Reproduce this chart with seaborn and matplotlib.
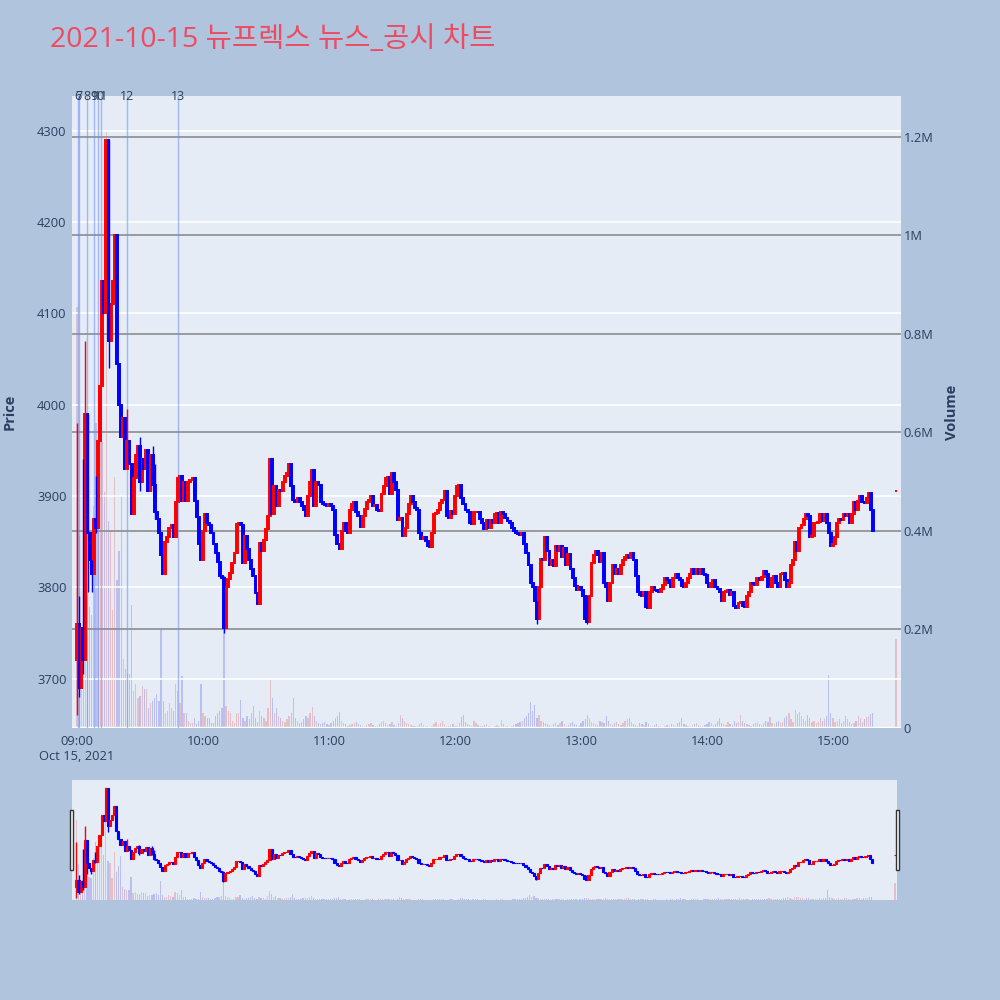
import numpy as np
import pandas as pd
import matplotlib
matplotlib.use('Agg')
from matplotlib import pyplot as plt
from matplotlib.patches import Rectangle
import matplotlib.transforms as mtransforms
import seaborn as sns

sns.set_theme(style='white')
plt.rcParams['font.family'] = ['Open Sans', 'Noto Sans CJK KR', 'DejaVu Sans']

title = '2021-10-15 뉴프렉스 뉴스_공시 차트'

# 1분봉 종가 (09:00 부터, 한 줄에 20분)
closes = [
    3760, 3690, 3755, 3720, 3990, 3860, 3830, 3815, 3875, 3865, 3960, 4020, 4135, 4100, 4290, 4070, 4110, 4135, 4186, 4045,
    4000, 3965, 3985, 3930, 3960, 3935, 3880, 3920, 3945, 3955, 3915, 3940, 3930, 3950, 3905, 3945, 3912, 3882, 3875, 3860,
    3835, 3815, 3850, 3855, 3865, 3868, 3855, 3893, 3920, 3922, 3895, 3915, 3895, 3915, 3918, 3920, 3895, 3877, 3848, 3830,
    3862, 3880, 3870, 3868, 3860, 3848, 3838, 3828, 3812, 3810, 3755, 3800, 3809, 3816, 3827, 3838, 3869, 3870, 3868, 3827,
    3856, 3842, 3830, 3820, 3812, 3794, 3782, 3849, 3840, 3852, 3864, 3878, 3940, 3880, 3911, 3889, 3907, 3905, 3915, 3922,
    3925, 3935, 3911, 3896, 3893, 3898, 3893, 3889, 3885, 3878, 3900, 3915, 3929, 3889, 3915, 3912, 3893, 3891, 3890, 3889,
    3891, 3889, 3885, 3857, 3848, 3842, 3862, 3871, 3862, 3860, 3885, 3891, 3893, 3882, 3878, 3866, 3878, 3886, 3893, 3896,
    3900, 3889, 3890, 3885, 3884, 3902, 3911, 3920, 3921, 3902, 3925, 3915, 3907, 3874, 3876, 3856, 3865, 3880, 3891, 3900,
    3893, 3887, 3885, 3860, 3853, 3855, 3851, 3845, 3844, 3860, 3880, 3881, 3885, 3892, 3896, 3905, 3878, 3876, 3884, 3880,
    3900, 3911, 3912, 3898, 3891, 3885, 3882, 3871, 3869, 3882, 3883, 3882, 3875, 3870, 3864, 3874, 3865, 3874, 3871, 3880,
    3881, 3871, 3882, 3880, 3876, 3873, 3871, 3865, 3862, 3860, 3858, 3857, 3860, 3848, 3838, 3825, 3805, 3800, 3785, 3765,
    3800, 3831, 3830, 3855, 3840, 3825, 3830, 3823, 3845, 3840, 3845, 3833, 3843, 3825, 3836, 3820, 3810, 3802, 3797, 3800,
    3797, 3790, 3765, 3762, 3790, 3827, 3835, 3840, 3835, 3828, 3838, 3805, 3800, 3785, 3805, 3825, 3815, 3820, 3815, 3825,
    3830, 3833, 3835, 3832, 3838, 3830, 3812, 3795, 3792, 3790, 3795, 3778, 3777, 3795, 3800, 3797, 3796, 3795, 3798, 3803,
    3810, 3808, 3805, 3800, 3810, 3815, 3810, 3808, 3802, 3800, 3805, 3810, 3815, 3820, 3815, 3820, 3815, 3820, 3815, 3813,
    3805, 3800, 3805, 3808, 3800, 3798, 3795, 3785, 3795, 3796, 3797, 3792, 3795, 3780, 3777, 3783, 3784, 3780, 3778, 3790,
    3795, 3805, 3804, 3803, 3810, 3808, 3811, 3818, 3815, 3800, 3800, 3810, 3812, 3805, 3800, 3815, 3816, 3808, 3800, 3805,
    3825, 3830, 3850, 3840, 3865, 3868, 3875, 3880, 3878, 3855, 3856, 3870, 3871, 3872, 3880, 3873, 3880, 3870, 3860, 3845,
    3848, 3855, 3870, 3875, 3874, 3880, 3878, 3880, 3870, 3880, 3893, 3885, 3895, 3900, 3893, 3892, 3898, 3903, 3885, 3862,
]
first_open = 3720

# 1분 거래량 (천주)
volumes_k = [
    855, 390, 160, 210, 240, 270, 245, 230, 450, 620, 540, 700, 580, 480, 1210, 420, 400, 240, 510, 300,
    360, 470, 140, 120, 110, 110, 250, 75, 90, 60, 65, 85, 80, 80, 40, 50, 55, 60, 70, 55,
    200, 55, 30, 35, 50, 40, 35, 90, 75, 50, 105, 30, 30, 15, 10, 10, 20, 8, 15, 90,
    30, 25, 20, 20, 10, 10, 25, 30, 35, 40, 200, 45, 35, 30, 15, 10, 30, 30, 57, 20,
    15, 25, 18, 30, 45, 20, 12, 35, 25, 20, 15, 40, 100, 60, 30, 40, 25, 20, 15, 12,
    18, 25, 30, 60, 20, 15, 10, 12, 18, 25, 20, 30, 43, 25, 15, 10, 8, 10, 12, 8,
    6, 10, 15, 20, 25, 33, 15, 10, 8, 5, 6, 8, 10, 12, 8, 6, 5, 4, 6, 8,
    10, 6, 5, 4, 8, 12, 15, 10, 6, 8, 12, 6, 5, 10, 27, 20, 15, 10, 8, 6,
    5, 4, 5, 8, 10, 6, 5, 4, 3, 5, 8, 12, 6, 10, 15, 8, 5, 4, 6, 8,
    5, 4, 10, 22, 26, 12, 8, 6, 5, 15, 10, 6, 5, 4, 6, 8, 5, 4, 3, 5,
    6, 4, 16, 8, 5, 4, 3, 5, 6, 8, 10, 12, 15, 20, 25, 30, 53, 35, 47, 20,
    26, 15, 12, 10, 8, 6, 5, 8, 12, 6, 10, 15, 8, 5, 6, 10, 12, 8, 6, 5,
    10, 15, 18, 26, 20, 12, 10, 8, 6, 15, 12, 10, 24, 15, 8, 6, 10, 12, 8, 6,
    10, 15, 18, 20, 12, 8, 6, 5, 10, 8, 6, 12, 8, 5, 4, 6, 8, 5, 4, 3,
    5, 6, 4, 8, 6, 5, 10, 12, 20, 8, 6, 5, 4, 6, 8, 10, 6, 5, 4, 6,
    8, 12, 10, 6, 8, 15, 20, 10, 8, 6, 12, 8, 6, 15, 10, 12, 26, 15, 10, 8,
    6, 5, 8, 10, 12, 8, 6, 10, 15, 12, 22, 10, 8, 12, 15, 10, 12, 20, 25, 30,
    18, 12, 37, 28, 33, 25, 18, 15, 26, 20, 12, 15, 10, 12, 20, 15, 18, 25, 108, 30,
    20, 12, 15, 18, 10, 15, 24, 18, 12, 8, 10, 15, 24, 20, 12, 18, 22, 25, 28, 30,
]

# 동시호가 (15:30)
auction_min = 390
auction_price = 3905
auction_vol_k = 180

# 꼬리 (분, 고가, 저가)
wick_min = [0, 1, 3, 4, 5, 7, 9, 15, 24, 30, 36, 37, 70, 219, 243]
wick_hi = [3980, 3790, 3940, 4070, 3990, 3830, 3922, 4290, 3995, 3965, 3955, 3935, 3812, 3785, 3790]
wick_lo = [3660, 3680, 3705, 3720, 3795, 3795, 3860, 4040, 3930, 3906, 3905, 3875, 3750, 3760, 3760]

# 뉴스/공시 시점
news_labels = ['6', '7', '8', '9', '10', '11', '12', '13']
news_min = [0.4, 0.9, 4.6, 8.2, 10.1, 11.4, 24.0, 48.2]

time_ticks = [0, 60, 120, 180, 240, 300, 360]
time_labels = ['09:00\nOct 15, 2021', '10:00', '11:00', '12:00', '13:00', '14:00', '15:00']
price_ticks = [3700, 3800, 3900, 4000, 4100, 4200, 4300]
vol_ticks = [0, 200000, 400000, 600000, 800000, 1000000, 1200000]
vol_labels = ['0', '0.2M', '0.4M', '0.6M', '0.8M', '1M', '1.2M']

# 데이터 정리
n = len(closes)
minutes = list(range(n)) + [auction_min]
opens = [first_open] + closes[:-1] + [auction_price]
close_all = closes + [auction_price]
df = pd.DataFrame({'minute': minutes, 'open': opens, 'close': close_all,
                   'volume': [v * 1000 for v in volumes_k + [auction_vol_k]]})
df['dir'] = np.where(df['close'] >= df['open'], 'up', 'down')

UP = '#FF0000'
DOWN = '#0000FF'
TXT = '#2a3f5f'
BG = '#E5ECF6'
XLIM = (-2.4, 392.4)
PLIM = (3646, 4338)
VLIM = (0, 1283000)


def draw_candles(axp, width, lw):
    colors = [UP if d == 'up' else DOWN for d in df['dir']]
    axp.bar(df['minute'], df['close'] - df['open'], bottom=df['open'], width=width,
            color=colors, edgecolor=colors, linewidth=lw, zorder=3)
    wc = []
    for m in wick_min:
        wc.append(UP if df.loc[m, 'dir'] == 'up' else DOWN)
    axp.vlines(wick_min, wick_lo, wick_hi, colors=wc, linewidth=1, zorder=3)


def draw_volume(ax, width):
    sns.barplot(data=df, x='minute', y='volume', hue='dir', native_scale=True,
                palette={'up': UP, 'down': DOWN}, alpha=0.22, width=width,
                dodge=False, errorbar=None, legend=False, linewidth=0, ax=ax)


fig = plt.figure(figsize=(10, 10), dpi=100, facecolor='#B0C4DE')

# 메인 차트 (거래량 축이 아래, 가격 축이 위)
ax = fig.add_axes([0.072, 0.272, 0.829, 0.632], facecolor=BG)
draw_volume(ax, 0.6)
ax.set_ylim(*VLIM)
for v in vol_ticks[1:]:
    ax.axhline(v, color='#8c8c8c', lw=1.2, zorder=1)
ax.axhline(0, color='white', lw=2.5, zorder=1)
ax.set_ylabel('')
ax.set_xlabel('')

axp = ax.twinx()
for p in price_ticks:
    axp.axhline(p, color='white', lw=1.2, zorder=0)
draw_candles(axp, 0.9, 1.4)
axp.set_ylim(*PLIM)

# twinx 이후에 눈금 위치 교체
ax.yaxis.tick_right()
axp.yaxis.tick_left()
ax.set_yticks(vol_ticks)
ax.set_yticklabels(vol_labels)
axp.set_yticks(price_ticks)
axp.set_yticklabels([str(p) for p in price_ticks])

# 뉴스 라인
trans = mtransforms.blended_transform_factory(axp.transData, axp.transAxes)
for m, lab in zip(news_min, news_labels):
    axp.axvline(m, color='#6a8cf5', alpha=0.55, lw=1, zorder=2)
    axp.text(m, 1.0, lab, transform=trans, ha='center', va='center',
             fontsize=9, color=TXT, zorder=5)

for a in (ax, axp):
    a.set_xlim(*XLIM)
    for s in a.spines.values():
        s.set_visible(False)
    a.tick_params(length=0, labelsize=9.3, labelcolor=TXT)
ax.tick_params(axis='y', pad=2)
axp.tick_params(axis='y', pad=4)
ax.set_xticks(time_ticks)
ax.set_xticklabels(time_labels)
ax.tick_params(axis='x', pad=5)

fig.text(0.010, 0.588, 'Price', rotation=90, ha='center', va='center',
         fontsize=10.5, fontweight='bold', color=TXT)
fig.text(0.952, 0.588, 'Volume', rotation=90, ha='center', va='center',
         fontsize=10.5, fontweight='bold', color=TXT)
fig.text(0.05, 0.960, title, ha='left', va='center', fontsize=20.5,
         color='#EE4B62', family=['Open Sans', 'Noto Sans CJK KR'])

# 레인지 슬라이더
axs = fig.add_axes([0.072, 0.100, 0.825, 0.120], facecolor=BG)
draw_volume(axs, 0.6)
axs.set_ylim(*VLIM)
axs2 = axs.twinx()
draw_candles(axs2, 1.0, 0.8)
axs2.set_ylim(*PLIM)
for a in (axs, axs2):
    a.set_xlim(-2.1, 391)
    a.set_xticks([])
    a.set_yticks([])
    a.set_xlabel('')
    a.set_ylabel('')
    for s in a.spines.values():
        s.set_visible(False)

for hx in (0.0695, 0.8955):
    fig.patches.append(Rectangle((hx, 0.130), 0.0035, 0.060, transform=fig.transFigure,
                                 facecolor='white', edgecolor='#333333', lw=1, zorder=10))

plt.savefig('out.png', dpi=100, facecolor=fig.get_facecolor())
